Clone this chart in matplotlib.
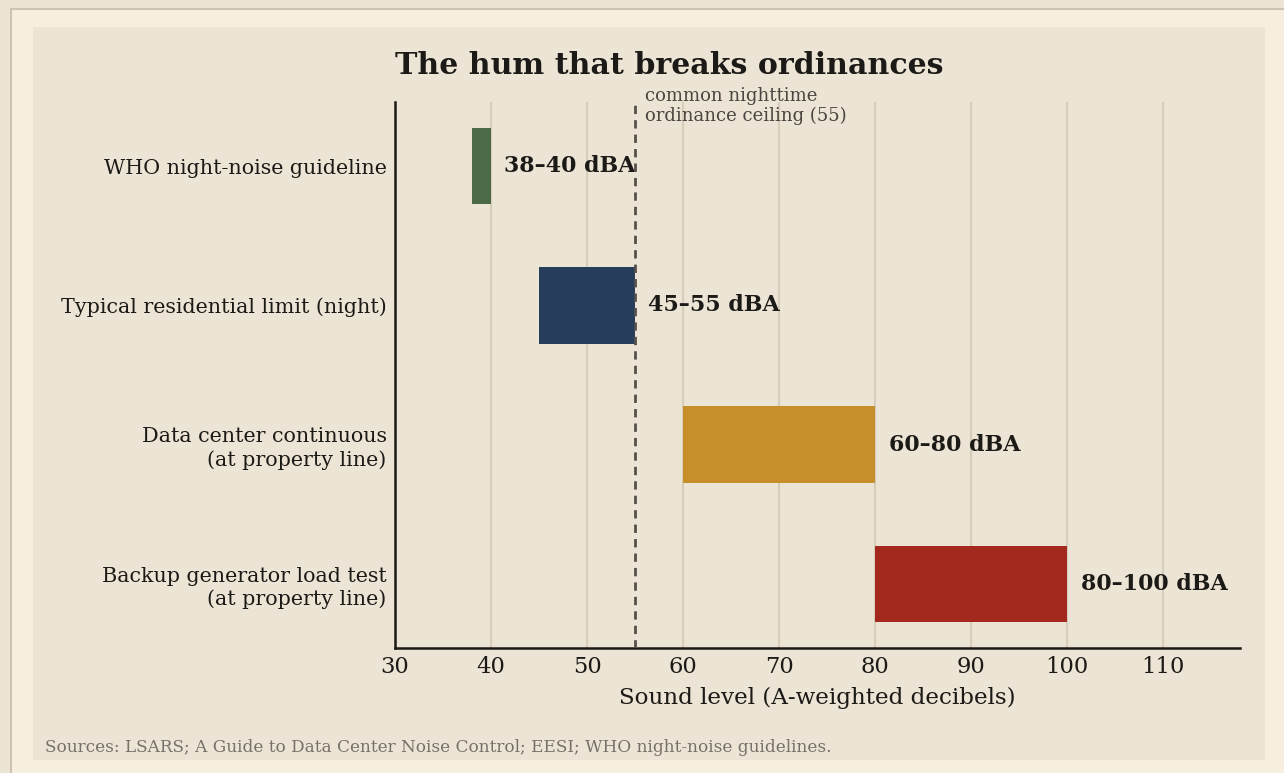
import matplotlib
matplotlib.use("Agg")
import matplotlib.pyplot as plt
from matplotlib.patches import Rectangle

categories = ["WHO night-noise guideline", "Typical residential limit (night)",
              "Data center continuous\n(at property line)", "Backup generator load test\n(at property line)"]
lows = [38, 45, 60, 80]
highs = [40, 55, 80, 100]
labels = ["38\u201340 dBA", "45\u201355 dBA", "60\u201380 dBA", "80\u2013100 dBA"]
colors = ["#4a6b45", "#263e5c", "#c68f2c", "#a3291e"]
ceiling = 55
xticks = [30, 40, 50, 60, 70, 80, 90, 100, 110]

plt.rcParams['font.family'] = ['DejaVu Serif']

W, H = 1284, 773
fig = plt.figure(figsize=(W/100, H/100), dpi=100)
fig.patch.set_facecolor("#ece4d4")
# outer cream frame
fig.patches.append(Rectangle((11/W, -0.05), 1.1, 1.05 - 9/H, transform=fig.transFigure,
                             facecolor="#f6efe0", edgecolor="#cdc3b0", linewidth=1.5, zorder=-2))
# inner panel
fig.patches.append(Rectangle((33/W, 13/H), (1265-33)/W, (760-27)/H, transform=fig.transFigure,
                             facecolor="#ece4d4", edgecolor="none", zorder=-1))

ax = fig.add_axes([395/W, 1 - 648/H, (1240-395)/W, (648-102)/H])
ax.set_facecolor("#ece4d4")
ax.patch.set_alpha(0)

ypos = list(range(len(categories)))
ax.barh(ypos, [h - l for l, h in zip(lows, highs)], left=lows, height=0.55,
        color=colors, zorder=3)
for y, h, lab in zip(ypos, highs, labels):
    ax.text(h + 1.4, y, lab, va="center", ha="left", fontsize=15.9,
            fontweight="bold", color="#1c1a17", zorder=4)

ax.axvline(ceiling, color="#555049", linestyle=(0, (3, 2.2)), linewidth=2, zorder=5)
ax.text(ceiling + 1.0, 1 + 15/546, "common nighttime\nordinance ceiling (55)",
        transform=ax.get_xaxis_transform(),
        ha="left", va="top", fontsize=13.0, color="#4a4540", linespacing=1.1, zorder=6)

ax.set_xlim(30, 118)
ax.set_ylim(len(categories) - 1 + 0.46, -0.46)
ax.set_xticks(xticks)
ax.set_yticks(ypos)
ax.set_yticklabels(categories, fontsize=14.9, color="#1c1a17", linespacing=1.25)
ax.tick_params(axis="x", labelsize=16.3, colors="#1c1a17", length=0, pad=6)
ax.tick_params(axis="y", length=0, pad=6)
ax.grid(axis="x", color="#d6cdbb", linewidth=1.5, zorder=0)
ax.set_axisbelow(True)
for s in ["top", "right"]:
    ax.spines[s].set_visible(False)
for s in ["left", "bottom"]:
    ax.spines[s].set_color("#1c1a17")
    ax.spines[s].set_linewidth(1.8)

ax.set_xlabel("Sound level (A-weighted decibels)", fontsize=16.6, color="#1c1a17", labelpad=6)
ax.set_title("The hum that breaks ordinances", loc="left", fontsize=21.6,
             fontweight="bold", color="#1c1a17", pad=20)

fig.text(45/W, 1 - 748/H, "Sources: LSARS; A Guide to Data Center Noise Control; EESI; WHO night-noise guidelines.",
         fontsize=12.2, color="#77706a", ha="left", va="center")

fig.savefig("out.png", dpi=100, facecolor=fig.get_facecolor())
